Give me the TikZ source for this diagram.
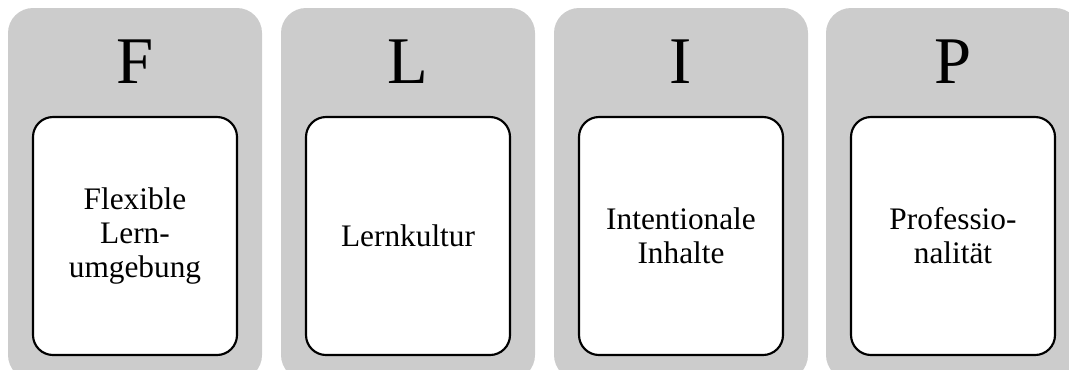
\documentclass[tikz,border=0pt]{standalone}
\usepackage{fontspec}
\setmainfont{Liberation Serif}
\definecolor{panelgray}{HTML}{CCCCCC}
\begin{document}
\begin{tikzpicture}[x=0.75pt,y=-0.75pt,
  panel/.style={fill=panelgray, draw=none, rounded corners=18.75pt,
    minimum width=190.5pt, minimum height=279pt, anchor=north, inner sep=0pt, outer sep=0pt},
  letter/.style={anchor=base, inner sep=0pt, font=\fontsize{50}{60}\selectfont},
  card/.style={fill=white, draw=black, line width=1.6pt, rounded corners=15pt,
    minimum width=153pt, minimum height=178.5pt, inner sep=0pt},
  cardtext/.style={align=center, inner sep=0pt, font=\fontsize{23.5}{25.5}\selectfont}]
\useasboundingbox (0,0) rectangle (1069,369);
\clip (0,0) rectangle (1069,369);
\foreach \cx/\L/\T [count=\i] in {135/F/{Flexible\\Lern-\\umgebung},
                                   408/L/{Lernkultur},
                                   681/I/{Intentionale\\Inhalte},
                                   953/P/{Professio-\\nalität}} {
  \node[panel] (panel\i) at (\cx,8) {};
  \node[letter] (letter\i) at (\cx,83) {\L};
  \node[card] (card\i) at (\cx,236) {};
  \node[cardtext] (text\i) at (card\i.center) {\T};
}
\end{tikzpicture}
\end{document}
